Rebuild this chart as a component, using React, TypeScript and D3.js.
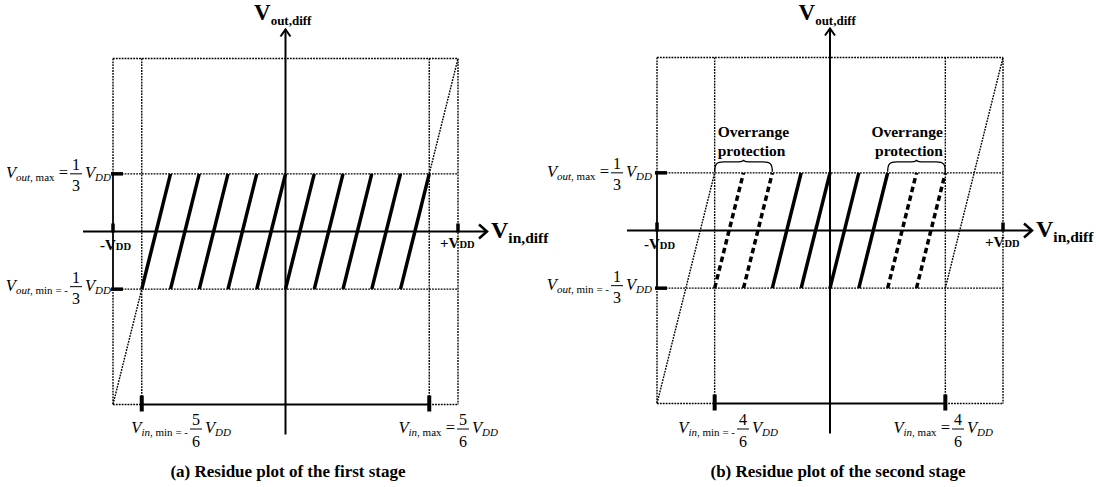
import React from 'react';
import * as d3 from 'd3';

const W = 1099;
const H = 487;
const SERIF = '"Liberation Serif", "Times New Roman", serif';

// Start of each residue segment, in sixths of VDD
const stage1Codes = [-5, -4, -3, -2, -1, 0, 1, 2, 3, 4];
const stage2Codes = [-4, -3, -2, -1, 0, 1, 2, 3];
const stage1Overrange = [false, false, false, false, false, false, false, false, false, false];
const stage2Overrange = [true, true, false, false, false, false, true, true];
// Output swing and input range, in units of VDD
const outputRange = [-1 / 3, 1 / 3];
const stage1InputRange = [-5 / 6, 5 / 6];
const stage2InputRange = [-4 / 6, 4 / 6];
const stageGain = 4;
// Ideal transfer line outside the input range
const stage1Ideal = [[[-1, -1], [-5 / 6, -1 / 3]], [[5 / 6, 1 / 3], [1, 1]]];
const stage2Ideal = [[[-1, -1], [-4 / 6, 1 / 3]], [[4 / 6, -1 / 3], [1, 1]]];
const stage1InputFraction = ['5', '6'];
const stage2InputFraction = ['4', '6'];
const outputFraction = ['1', '3'];
const captions = ['(a) Residue plot of the first stage', '(b) Residue plot of the second stage'];

const panels = [
  {
    id: 'a', xRange: [113, 458], yRange: [404.5, 58.5], codes: stage1Codes, overrange: stage1Overrange,
    inputRange: stage1InputRange, ideal: stage1Ideal, inFrac: stage1InputFraction, caption: captions[0],
    captionX: 288, voutFracX: 76, vinMinFracX: 196, vinMaxFracX: 463,
  },
  {
    id: 'b', xRange: [657, 1003], yRange: [403.5, 57.5], codes: stage2Codes, overrange: stage2Overrange,
    inputRange: stage2InputRange, ideal: stage2Ideal, inFrac: stage2InputFraction, caption: captions[1],
    captionX: 838, voutFracX: 617, vinMinFracX: 743, vinMaxFracX: 958,
  },
];

const dotted = { stroke: '#000', strokeWidth: 1.4, strokeDasharray: '1.8 1.1', fill: 'none' };

function FracEq({ x, base, name, sub, neg, frac, smallEq }: any) {
  return (
    <g fontFamily={SERIF} fill="#000">
      <text x={x - 8} y={base} textAnchor="end">
        <tspan fontStyle="italic" fontSize={16.5}>V</tspan>
        <tspan fontStyle="italic" fontSize={11} dy={3}>{name},</tspan>
        <tspan fontSize={11}> {sub}</tspan>
        <tspan fontSize={smallEq ? 11 : 16.5} dy={smallEq ? 0 : -3}>{neg ? ' = -' : ' ='}</tspan>
      </text>
      <text x={x} y={base - 8} textAnchor="middle" fontSize={16}>{frac[0]}</text>
      <line x1={x - 6} x2={x + 6} y1={base - 4} y2={base - 4} stroke="#000" strokeWidth={1} />
      <text x={x} y={base + 13.5} textAnchor="middle" fontSize={16}>{frac[1]}</text>
      <text x={x + 9} y={base}>
        <tspan fontStyle="italic" fontSize={16.5}>V</tspan>
        <tspan fontStyle="italic" fontSize={11} dy={3}>DD</tspan>
      </text>
    </g>
  );
}

function Panel({ spec }: any) {
  const x = d3.scaleLinear().domain([-1, 1]).range(spec.xRange);
  const y = d3.scaleLinear().domain([-1, 1]).range(spec.yRange);
  const [vMin, vMax] = outputRange;
  const [inMin, inMax] = spec.inputRange;
  const line = d3.line<number[]>().x(d => x(d[0])).y(d => y(d[1]));
  const step = (vMax - vMin) / stageGain;

  const segs = spec.codes.map((c: number, i: number) => ({
    pts: [[c / 6, vMin], [c / 6 + step, vMax]],
    over: spec.overrange[i],
  }));

  // contiguous runs of overrange segments
  const groups: number[][] = [];
  spec.codes.forEach((c: number, i: number) => {
    if (!spec.overrange[i]) return;
    const last = groups[groups.length - 1];
    if (last && spec.overrange[i - 1]) last[1] = c / 6 + step;
    else groups.push([c / 6, c / 6 + step]);
  });

  const x0 = x(0), y0 = y(0);
  const xL = x(-1), xR = x(1), yT = y(1), yB = y(-1);
  const axL = xL - 30, axR = xR + 29;
  const ayT = yT - 29, ayB = yB + 30;

  return (
    <g>
      {/* frame and guide lines */}
      <line x1={xL} x2={xR} y1={yT} y2={yT} {...dotted} />
      <line x1={xR} x2={xR} y1={yT} y2={yB} {...dotted} />
      <line x1={xL} x2={xL} y1={yT} y2={y(vMax)} {...dotted} />
      <line x1={xL} x2={xL} y1={y(vMin)} y2={yB} {...dotted} />
      <line x1={xL} x2={x(inMin)} y1={yB} y2={yB} {...dotted} />
      <line x1={x(inMax)} x2={xR} y1={yB} y2={yB} {...dotted} />
      <line x1={x(inMin)} x2={x(inMin)} y1={yT} y2={yB} {...dotted} />
      <line x1={x(inMax)} x2={x(inMax)} y1={yT} y2={yB} {...dotted} />
      <line x1={xL} x2={xR} y1={y(vMax)} y2={y(vMax)} {...dotted} />
      <line x1={xL} x2={xR} y1={y(vMin)} y2={y(vMin)} {...dotted} />
      {spec.ideal.map((p: number[][], i: number) => (
        <path key={i} d={line(p) as string} {...dotted} />
      ))}

      {/* ranges */}
      <line x1={xL} x2={xL} y1={y(vMax)} y2={y(vMin)} stroke="#000" strokeWidth={1.8} />
      <line x1={x(inMin)} x2={x(inMax)} y1={yB} y2={yB} stroke="#000" strokeWidth={2} />

      {/* residue segments */}
      {segs.map((s: any, i: number) => (
        <path key={i} d={line(s.pts) as string} stroke="#000" strokeWidth={3.5} fill="none"
          strokeDasharray={s.over ? '5.5 3.5' : undefined} />
      ))}

      {/* axes */}
      <line x1={axL} x2={axR} y1={y0} y2={y0} stroke="#000" strokeWidth={2.2} />
      <path d={`M${axR - 8},${y0 - 7}L${axR},${y0}L${axR - 8},${y0 + 7}`} stroke="#000" strokeWidth={2.5} fill="none" />
      <line x1={x0} x2={x0} y1={ayT} y2={ayB} stroke="#000" strokeWidth={2} />
      <path d={`M${x0 - 5},${ayT + 7}L${x0},${ayT}L${x0 + 5},${ayT + 7}`} stroke="#000" strokeWidth={2} fill="none" />

      {/* ticks */}
      {[vMax, vMin].map((v, i) => (
        <line key={'vt' + i} x1={xL - 2} x2={xL + 10} y1={y(v)} y2={y(v)} stroke="#000" strokeWidth={3.5} />
      ))}
      {[-1, 1].map((v, i) => (
        <line key={'ht' + i} x1={x(v)} x2={x(v)} y1={y0 - 8} y2={y0 + 1} stroke="#000" strokeWidth={3.5} />
      ))}
      {[inMin, inMax].map((v, i) => (
        <line key={'bt' + i} x1={x(v)} x2={x(v)} y1={yB - 9} y2={yB + 7} stroke="#000" strokeWidth={4} />
      ))}

      {/* overrange braces */}
      {groups.map((g, i) => {
        const xa = x(g[0]), xb = x(g[1]), xm = (xa + xb) / 2;
        const yb = y(vMax) - 1, yt = y(vMax) - 11;
        const d = `M${xa},${yb}C${xa},${yt + 2} ${xa + 2},${yt} ${xa + 9},${yt}L${xm - 5},${yt}Q${xm},${yt} ${xm},${yt - 2}` +
          `Q${xm},${yt} ${xm + 5},${yt}L${xb - 9},${yt}C${xb - 2},${yt} ${xb},${yt + 2} ${xb},${yb}`;
        const leftSide = xm < x0;
        const tx = leftSide ? x(inMin) + 3 : x(inMax) - 2.5;
        return (
          <g key={'br' + i}>
            <path d={d} stroke="#000" strokeWidth={1.3} fill="none" />
            <text x={tx} y={137} textAnchor={leftSide ? 'start' : 'end'} fontFamily={SERIF} fontWeight="bold" fontSize={15.5}>Overrange</text>
            <text x={tx} y={156} textAnchor={leftSide ? 'start' : 'end'} fontFamily={SERIF} fontWeight="bold" fontSize={15.5}>protection</text>
          </g>
        );
      })}

      {/* axis titles */}
      <text x={x0 - 31.5} y={20} fontFamily={SERIF} fontWeight="bold">
        <tspan fontSize={23}>V</tspan>
        <tspan fontSize={13} dy={5}>out,diff</tspan>
      </text>
      <text x={xR + 33} y={y0 + 6.5} fontFamily={SERIF} fontWeight="bold">
        <tspan fontSize={24}>V</tspan>
        <tspan fontSize={15.5} dy={5}>in,diff</tspan>
      </text>

      {/* ±VDD */}
      <text x={xL - 13} y={y0 + 18.5} fontFamily={SERIF} fontWeight="bold">
        <tspan fontSize={15}>-V</tspan>
        <tspan fontSize={10.5}>DD</tspan>
      </text>
      <text x={xR - 18} y={y0 + 16} fontFamily={SERIF} fontWeight="bold">
        <tspan fontSize={15}>+V</tspan>
        <tspan fontSize={10.5}>DD</tspan>
      </text>

      {/* range equations */}
      <FracEq x={spec.voutFracX} base={y(vMax) + 4} name="out" sub="max" neg={false} frac={outputFraction} />
      <FracEq x={spec.voutFracX} base={y(vMin) + 1.5} name="out" sub="min" neg={true} smallEq frac={outputFraction} />
      <FracEq x={spec.vinMinFracX} base={433} name="in" sub="min" neg={true} smallEq frac={spec.inFrac} />
      <FracEq x={spec.vinMaxFracX} base={433} name="in" sub="max" neg={false} frac={spec.inFrac} />

      <text x={spec.captionX} y={477} textAnchor="middle" fontFamily={SERIF} fontWeight="bold" fontSize={17}>
        {spec.caption}
      </text>
    </g>
  );
}

export default function App() {
  return (
    <svg width={W} height={H} viewBox={`0 0 ${W} ${H}`}
      style={{ position: 'absolute', left: 0, top: 0, background: '#fff' }}>
      <rect width={W} height={H} fill="#fff" />
      {panels.map(p => <Panel key={p.id} spec={p} />)}
    </svg>
  );
}
